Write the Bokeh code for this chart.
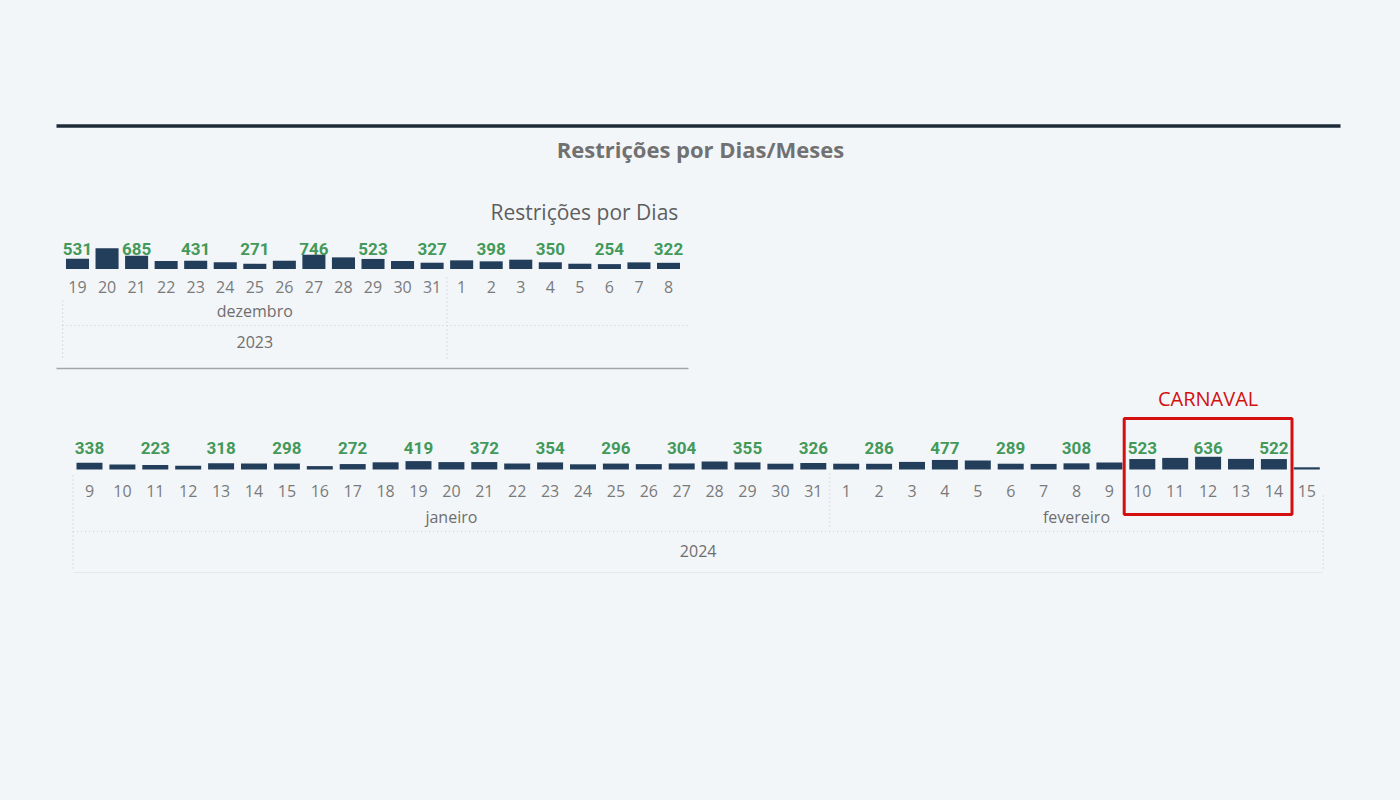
from bokeh.plotting import figure
from bokeh.models import Range1d, Label
from bokeh.core.properties import value
from bokeh.embed import file_html
from bokeh.resources import INLINE

# ---------------- data ----------------
top_days = ["19", "20", "21", "22", "23", "24", "25", "26", "27", "28", "29", "30", "31",
            "1", "2", "3", "4", "5", "6", "7", "8"]
top_values = [531, 1075, 685, 415, 431, 345, 271, 430, 746, 605, 523, 415, 327,
              450, 398, 485, 350, 275, 254, 345, 322]
top_months = ["dezembro"]
top_month_spans = [(0, 12)]
top_years = ["2023"]

bot_days = ["9", "10", "11", "12", "13", "14", "15", "16", "17", "18", "19", "20", "21",
            "22", "23", "24", "25", "26", "27", "28", "29", "30", "31",
            "1", "2", "3", "4", "5", "6", "7", "8", "9", "10", "11", "12", "13", "14", "15"]
bot_values = [338, 250, 223, 190, 318, 300, 298, 170, 272, 360, 419, 370, 372,
              300, 354, 260, 296, 270, 304, 400, 355, 290, 326,
              290, 286, 380, 477, 450, 289, 280, 308, 350, 523, 580, 636, 530, 522, 110]
bot_months = ["janeiro", "fevereiro"]
bot_month_spans = [(0, 22), (23, 37)]
bot_year = "2024"
carnaval_span = (32, 36)

main_title = "Restrições por Dias/Meses"
sub_title = "Restrições por Dias"
carnaval_text = "CARNAVAL"

# ---------------- styling ----------------
BG = "#f3f6f9"
NAVY = "#233e5b"
GREEN = "#43995a"
TICK = "#7a7a7a"
MONTH = "#6e6e6e"
RED = "#d40f0f"
DOT = "#c9cdd1"
W, H = 1384, 784

p = figure(width=W, height=H, output_backend="svg", toolbar_location=None,
           x_range=Range1d(0, W), y_range=Range1d(H, 0),
           min_border=0, x_axis_type=None, y_axis_type=None)
p.grid.visible = False
p.outline_line_color = None
p.background_fill_color = BG
p.border_fill_color = BG

# layout parameters: (first slot x, slot step, baseline y, px per unit)
TOP = dict(x0=77.0, step=29.55, base=268.5, k=1 / 52.0)
BOT = dict(x0=89.0, step=32.9, base=469.0, k=1 / 50.0)

def add_ranges(name, g):
    p.extra_x_ranges[name] = Range1d((0 - g["x0"]) / g["step"], (W - g["x0"]) / g["step"])
    p.extra_y_ranges[name + "v"] = Range1d((g["base"] - H) / g["k"], (g["base"] - 0) / g["k"])

add_ranges("top", TOP)
add_ranges("bot", BOT)

# header
p.segment(x0=[56], y0=[125.5], x1=[1340], y1=[125.5], line_color="#1d2b39", line_width=3.5)
p.add_layout(Label(x=700, y=148, text=main_title, text_align="center", text_baseline="middle",
                   text_font="Open Sans", text_font_size="22px", text_font_style="bold",
                   text_color="#717171"))

def draw_chart(name, g, days, vals, y_tick, y_lab, width):
    idx = list(range(len(days)))
    labels = [str(v) if i % 2 == 0 else "" for i, v in enumerate(vals)]
    p.vbar(x=idx, top=vals, bottom=0, width=width, fill_color=NAVY, line_color=None,
           x_range_name=name, y_range_name=name + "v")
    p.text(x=idx, y=[y_tick] * len(idx), text=days, x_range_name=name,
           text_align="center", text_baseline="middle", text_font=value("Open Sans"),
           text_font_size="16px", text_color=TICK)
    p.text(x=idx, y=[y_lab] * len(idx), text=labels, x_range_name=name,
           text_align="center", text_baseline="middle", text_font=value("Roboto"),
           text_font_size="17px", text_font_style="bold", text_color=GREEN)

# ---------- top chart ----------
draw_chart("top", TOP, top_days, top_values, 286, 248, 0.78)
p.add_layout(Label(x=490, y=211, text=sub_title, text_align="left", text_baseline="middle",
                   text_font="Open Sans", text_font_size="21px", text_color="#5e5e5e"))
for m, (a, b) in zip(top_months, top_month_spans):
    p.text(x=[(a + b) / 2], y=[310], text=[m], x_range_name="top", text_align="center",
           text_baseline="middle", text_font=value("Open Sans"), text_font_size="16px",
           text_color=MONTH)
p.text(x=[(top_month_spans[0][0] + top_month_spans[0][1]) / 2], y=[341], text=top_years,
       x_range_name="top", text_align="center", text_baseline="middle",
       text_font=value("Open Sans"), text_font_size="16px", text_color=MONTH)
# separators (top)
p.segment(x0=[-0.5], y0=[300], x1=[-0.5], y1=[358], x_range_name="top",
          line_color=DOT, line_dash="1 3", line_width=1.2)
p.segment(x0=[top_month_spans[0][1] + 0.5], y0=[277], x1=[top_month_spans[0][1] + 0.5], y1=[358],
          x_range_name="top", line_color=DOT, line_dash="1 3", line_width=1.2)
p.segment(x0=[62], y0=[325], x1=[688], y1=[325], line_color=DOT, line_dash="1 3", line_width=1.2)
p.segment(x0=[56], y0=[368], x1=[688], y1=[368], line_color="#a3a6a9", line_width=1.5)

# ---------- bottom chart ----------
draw_chart("bot", BOT, bot_days, bot_values, 490, 447, 0.79)
for m, (a, b) in zip(bot_months, bot_month_spans):
    p.text(x=[(a + b) / 2], y=[516], text=[m], x_range_name="bot", text_align="center",
           text_baseline="middle", text_font=value("Open Sans"), text_font_size="16px",
           text_color=MONTH)
p.text(x=[(0 + len(bot_days) - 1) / 2], y=[550], text=[bot_year], x_range_name="bot",
       text_align="center", text_baseline="middle", text_font=value("Open Sans"),
       text_font_size="16px", text_color=MONTH)
n = len(bot_days)
p.segment(x0=[-0.5, bot_month_spans[0][1] + 0.5, n - 0.5],
          y0=[475, 473, 495], x1=[-0.5, bot_month_spans[0][1] + 0.5, n - 0.5],
          y1=[570, 527, 570], x_range_name="bot", line_color=DOT, line_dash="1 3", line_width=1.2)
p.segment(x0=[-0.5], y0=[531], x1=[n - 0.5], y1=[531], x_range_name="bot",
          line_color=DOT, line_dash="1 3", line_width=1.2)
p.segment(x0=[-0.5], y0=[572], x1=[n - 0.5], y1=[572], x_range_name="bot",
          line_color="#e6eaee", line_width=1)

# carnaval highlight
ca, cb = carnaval_span
p.quad(left=[ca - 0.5 - 0.05], right=[cb + 0.5 + 0.05], top=[418], bottom=[514],
       x_range_name="bot", fill_color=None, line_color=RED, line_width=3)
p.text(x=[(ca + cb) / 2], y=[398], text=[carnaval_text], x_range_name="bot",
       text_align="center", text_baseline="middle", text_font=value("Open Sans"),
       text_font_size="20px", text_color=RED)

html = file_html(p, INLINE)
html = html.replace("<head>", "<head><style>body{background:%s;}</style>" % BG, 1)
open("out.html", "w").write(html)
